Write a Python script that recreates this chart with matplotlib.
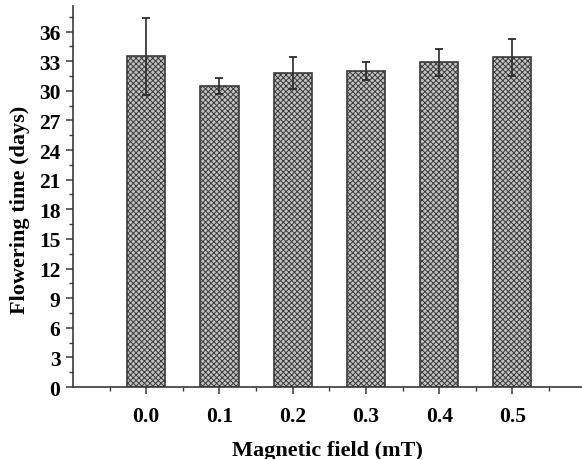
import matplotlib
matplotlib.use("Agg")
import matplotlib.pyplot as plt
from matplotlib.ticker import MultipleLocator, FixedLocator

fields = [0.0, 0.1, 0.2, 0.3, 0.4, 0.5]
tick_labels = ["0.0", "0.1", "0.2", "0.3", "0.4", "0.5"]
flowering = [33.5, 30.5, 31.8, 32.0, 32.9, 33.4]
errors = [3.9, 0.8, 1.65, 0.95, 1.35, 1.85]

plt.rcParams['font.family'] = ['Liberation Serif', 'DejaVu Serif']
plt.rcParams['font.weight'] = 'bold'
plt.rcParams['hatch.color'] = '#707070'
plt.rcParams['hatch.linewidth'] = 0.7

fig = plt.figure(figsize=(5.82, 4.60), dpi=100)
ax = fig.add_axes([0.1254, 0.1565, 0.8746, 0.8285])

ax.bar(fields, flowering, width=0.052, color='#c2c2c2', edgecolor='#3a3a3a',
       linewidth=1.2, hatch='xxxxxx', zorder=2)
ax.errorbar(fields, flowering, yerr=errors, fmt='none', ecolor='#2a2a2a',
            elinewidth=1.2, capsize=3.2, capthick=1.3, zorder=3)

ax.set_xlim(-0.1, 0.595)
ax.set_ylim(0, 38.6)

ax.set_xticks(fields)
ax.set_xticklabels(tick_labels)
ax.xaxis.set_minor_locator(FixedLocator([-0.05, 0.05, 0.15, 0.25, 0.35, 0.45, 0.55]))
ax.yaxis.set_major_locator(MultipleLocator(3))
ax.yaxis.set_minor_locator(MultipleLocator(1.5))

for s in ['top', 'right']:
    ax.spines[s].set_visible(False)
for s in ['left', 'bottom']:
    ax.spines[s].set_color('#3a3a3a')
    ax.spines[s].set_linewidth(1.2)

ax.tick_params(axis='both', which='major', direction='out', length=5, width=1.1,
               color='#3a3a3a', labelsize=15.5)
ax.tick_params(axis='both', which='minor', direction='out', length=3, width=1.0,
               color='#3a3a3a')
ax.tick_params(axis='x', which='major', pad=9)
ax.tick_params(axis='y', which='major', pad=4)
for lab in ax.get_xticklabels() + ax.get_yticklabels():
    lab.set_fontweight('bold')

ax.set_xlabel('Magnetic field (mT)', fontsize=16, fontweight='bold', labelpad=10)
ax.set_ylabel('Flowering time (days)', fontsize=16, fontweight='bold')
ax.yaxis.set_label_coords(-0.084, 0.467)

fig.savefig('out.png', dpi=100)
